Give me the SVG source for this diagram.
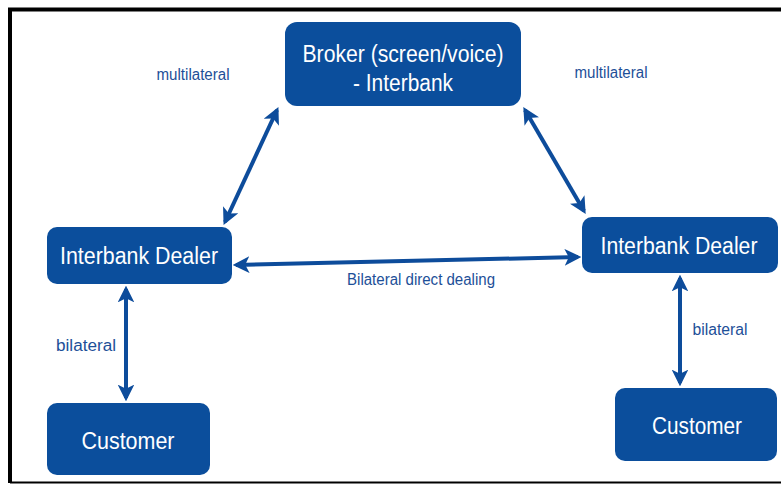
<svg xmlns="http://www.w3.org/2000/svg" width="781" height="485" viewBox="0 0 781 485">
  <style>
    .node rect { fill: #0b4e9c; }
    .node text { fill: #ffffff; font-family: "Liberation Sans", Arial, sans-serif; font-size: 23px; text-anchor: middle; }
    .lbl { fill: #1d4f98; font-family: "Liberation Sans", Arial, sans-serif; font-size: 16px; text-anchor: middle; }
    .conn { stroke: #0d4c9b; stroke-width: 4; fill: none; marker-start: url(#ah); marker-end: url(#ah); }
  </style>
  <defs>
    <marker id="ah" viewBox="0 0 10 10" refX="8" refY="5" markerWidth="4.2" markerHeight="4.2" orient="auto-start-reverse" markerUnits="strokeWidth">
      <path d="M0,0 L10,5 L0,10 L2.5,5 Z" fill="#0d4c9b"/>
    </marker>
  </defs>

  <!-- frame -->
  <rect x="0" y="0" width="781" height="485" fill="#ffffff"/>
  <path d="M10,483 L10,9.5 L781,9.5" fill="none" stroke="#000000" stroke-width="4"/>
  <line x1="10" y1="482.5" x2="781" y2="482.5" stroke="#000000" stroke-width="2"/>

  <!-- connectors -->
  <g id="connectors">
    <line class="conn" x1="277" y1="110" x2="225" y2="222"/>
    <line class="conn" x1="525" y1="110" x2="584" y2="211"/>
    <line class="conn" x1="236" y1="265" x2="578" y2="257"/>
    <line class="conn" x1="126" y1="289" x2="126" y2="398"/>
    <line class="conn" x1="680" y1="278" x2="680" y2="383"/>
  </g>

  <!-- edge labels -->
  <g id="labels">
    <text class="lbl" x="193" y="80" textLength="73" lengthAdjust="spacingAndGlyphs">multilateral</text>
    <text class="lbl" x="611" y="78" textLength="73" lengthAdjust="spacingAndGlyphs">multilateral</text>
    <text class="lbl" x="421" y="285" textLength="148" lengthAdjust="spacingAndGlyphs">Bilateral direct dealing</text>
    <text class="lbl" x="86" y="351" textLength="60" lengthAdjust="spacingAndGlyphs">bilateral</text>
    <text class="lbl" x="720" y="335" textLength="55" lengthAdjust="spacingAndGlyphs">bilateral</text>
  </g>

  <!-- nodes -->
  <g id="broker" class="node">
    <rect x="285" y="22" width="236" height="84" rx="12"/>
    <text x="403" y="62" textLength="201" lengthAdjust="spacingAndGlyphs">Broker (screen/voice)</text>
    <text x="403" y="91" textLength="100" lengthAdjust="spacingAndGlyphs">- Interbank</text>
  </g>
  <g id="dealer-left" class="node">
    <rect x="47" y="227" width="185" height="57" rx="10"/>
    <text x="139" y="264" textLength="158" lengthAdjust="spacingAndGlyphs">Interbank Dealer</text>
  </g>
  <g id="dealer-right" class="node">
    <rect x="582" y="217" width="196" height="56" rx="10"/>
    <text x="679" y="254" textLength="157" lengthAdjust="spacingAndGlyphs">Interbank Dealer</text>
  </g>
  <g id="customer-left" class="node">
    <rect x="47" y="403" width="163" height="72" rx="10"/>
    <text x="128" y="449" textLength="93" lengthAdjust="spacingAndGlyphs">Customer</text>
  </g>
  <g id="customer-right" class="node">
    <rect x="615" y="388" width="162" height="73" rx="10"/>
    <text x="697" y="434" textLength="90" lengthAdjust="spacingAndGlyphs">Customer</text>
  </g>
</svg>
